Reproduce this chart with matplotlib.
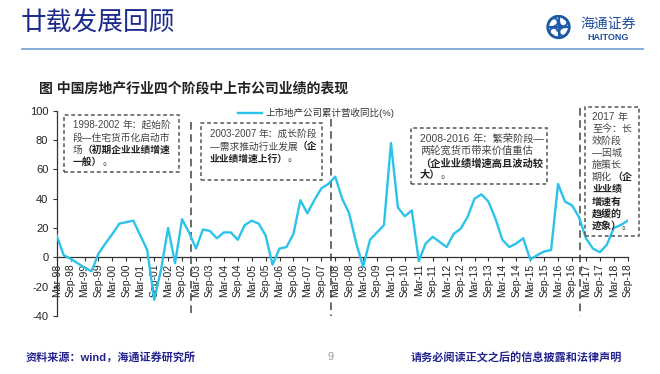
import numpy as np
import matplotlib
matplotlib.use("Agg")
import matplotlib.pyplot as plt
from matplotlib.patches import Rectangle, Circle, Arc
from matplotlib.lines import Line2D

plt.rcParams['font.family'] = ['Liberation Sans', 'Noto Sans CJK SC', 'DejaVu Sans']

# ---------------- data (quarterly, Mar-98 .. Sep-18) ----------------
y1998 = [15, 1.5, -1, -4]
y1999 = [-7, -9.5, 2.5, 9.5]
y2000 = [16, 23, 24, 25]
y2001 = [15, 5, -29, -8]
y2002 = [20, -4, 26, 17]
y2003 = [6, 19, 18, 13]
y2004 = [17, 17, 12, 22]
y2005 = [25, 23, 15, -5]
y2006 = [6, 7, 16, 39]
y2007 = [30, 39, 47, 50]
y2008 = [55, 40, 30, 10]
y2009 = [-6.5, 12, 17, 22]
y2010 = [78, 34, 28, 32]
y2011 = [-2.5, 9.5, 14, 10.5]
y2012 = [7, 16, 19.5, 27.5]
y2013 = [40, 43, 38, 26.5]
y2014 = [12, 7, 9.5, 13]
y2015 = [-1.5, 1.5, 4, 5]
y2016 = [50, 38, 35.5, 27.5]
y2017 = [13, 6, 3.5, 8.5]
y2018 = [20, 22, 25]

values = (y1998 + y1999 + y2000 + y2001 + y2002 + y2003 + y2004 + y2005 +
          y2006 + y2007 + y2008 + y2009 + y2010 + y2011 + y2012 + y2013 +
          y2014 + y2015 + y2016 + y2017 + y2018)

tick_labels = ["Mar-98", "Sep-98", "Mar-99", "Sep-99", "Mar-00", "Sep-00",
               "Mar-01", "Sep-01", "Mar-02", "Sep-02", "Mar-03", "Sep-03",
               "Mar-04", "Sep-04", "Mar-05", "Sep-05", "Mar-06", "Sep-06",
               "Mar-07", "Sep-07", "Mar-08", "Sep-08", "Mar-09", "Sep-09",
               "Mar-10", "Sep-10", "Mar-11", "Sep-11", "Mar-12", "Sep-12",
               "Mar-13", "Sep-13", "Mar-14", "Sep-14", "Mar-15", "Sep-15",
               "Mar-16", "Sep-16", "Mar-17", "Sep-17", "Mar-18", "Sep-18"]
y_ticks = [-40, -20, 0, 20, 40, 60, 80, 100]
series_name = "上市地产公司累计营收同比(%)"
stage_breaks = [9.65, 19.7, 37.6]   # positions in half-year units

# ---------------- figure ----------------
W, H = 660, 374
fig = plt.figure(figsize=(W / 100, H / 100), dpi=100)
fig.patch.set_facecolor('white')


def fx(p):
    return p / W


def fy(p):
    return 1 - p / H


NAVY = '#1c2a8c'
LINE = '#2cc3ea'
GRAY = '#444444'

ax = fig.add_axes([fx(56.7), fy(316), fx(627.7) - fx(56.7), fy(110.7) - fy(316)])
x = np.arange(len(values)) * 0.5
ax.plot(x, values, color=LINE, lw=1.7, solid_joinstyle='round', zorder=3)
ax.set_xlim(0, 41)
ax.set_ylim(-40, 100)

for s in ['top', 'right']:
    ax.spines[s].set_visible(False)
ax.spines['bottom'].set_position(('data', 0))
for s in ['left', 'bottom']:
    ax.spines[s].set_color('#333333')
    ax.spines[s].set_linewidth(0.9)

ax.set_xticks(np.arange(len(tick_labels)))
ax.set_xticklabels(tick_labels, rotation=90, fontsize=7.5, color='#222222')
ax.set_yticks(y_ticks)
ax.set_yticklabels([str(v) for v in y_ticks], fontsize=8, color='#222222')
ax.tick_params(axis='x', length=3, width=0.8, pad=1.5, color='#333333')
ax.tick_params(axis='y', length=3, width=0.8, pad=3, color='#333333')

# stage separator lines
tops = [92, 94, 102]
for b, t in zip(stage_breaks, tops):
    ax.plot([b, b], [t, -40], ls=(0, (5, 3)), color=GRAY, lw=1.1,
            clip_on=False, zorder=2)

# legend (manual)
fig.add_artist(Line2D([fx(238), fx(262)], [fy(113), fy(113)], color=LINE, lw=1.7,
                      transform=fig.transFigure))
fig.text(fx(265), fy(113), series_name, fontsize=6.8, color='#333333', va='center')

# ---------------- annotation boxes ----------------
def box(l, t, r, b):
    fig.add_artist(Rectangle((fx(l), fy(b)), fx(r) - fx(l), fy(t) - fy(b),
                             transform=fig.transFigure, fill=False,
                             ec='#555555', lw=1.1, ls=(0, (2.5, 1.8))))


def seg_line(xp, yp, segs, size=7):
    prev = None
    for s, w in segs:
        kw = dict(fontsize=size, color='#222222' if w == 'bold' else '#444444',
                  weight=w, va='center', ha='left', annotation_clip=False)
        if prev is None:
            prev = ax.annotate(s, xy=(fx(xp), fy(yp)), xycoords='figure fraction', **kw)
        else:
            prev = ax.annotate(s, xy=(1, 0.5), xycoords=prev, **kw)


N, B = 'normal', 'bold'

box(64, 115, 179, 171.7)
seg_line(73, 125, [("1998-2002 ", N), ("年：起始阶", N)])
seg_line(73, 137.5, [("段—住宅货币化启动市", N)])
seg_line(73, 150, [("场", N), ("（初期企业业绩增速", B)])
seg_line(73, 162, [("一般）", B), ("。", N)])

box(200.7, 123.3, 322.3, 180)
seg_line(210, 134.3, [("2003-2007 ", N), ("年：成长阶段", N)])
seg_line(210, 146.5, [("—需求推动行业发展", N), ("（企", B)])
seg_line(210, 158.5, [("业业绩增速上行）", B), ("。", N)])

box(411, 128.3, 546.7, 184.3)
seg_line(420, 139, [("2008-2016 ", N), ("年：繁荣阶段—", N)], 7.4)
seg_line(420, 151, [("两轮宽货币带来价值重估", N)], 7.4)
seg_line(420, 163.3, [("（企业业绩增速高且波动较", B)], 7.4)
seg_line(420, 175, [("大）", B), ("。", N)], 7.4)

box(585, 107, 639, 236)
box4_lines = [
    [("2017 ", N), ("年", N)],
    [("至今：长", N)],
    [("效阶段", N)],
    [("—因城", N)],
    [("施策长", N)],
    [("期化", N), ("（企", B)],
    [("业业绩", B)],
    [("增速有", B)],
    [("趋缓的", B)],
    [("迹象）", B), ("。", N)],
]
for i, segs in enumerate(box4_lines):
    seg_line(592, 116.7 + 12.1 * i, segs, 7.2)

# ---------------- header ----------------
fig.text(fx(21), fy(24), "廿载发展回顾", fontsize=18.5, color=NAVY, va='center',
         family=['Noto Sans CJK SC'])
fig.add_artist(Line2D([fx(22), fx(643)], [fy(49), fy(49)], color='#7ea6d8', lw=1.3,
                      transform=fig.transFigure))

# logo
lax = fig.add_axes([fx(546), fy(39.5), fx(571) - fx(546), fy(14.5) - fy(14.5 + 25)])
lax.set_xlim(-1.1, 1.1)
lax.set_ylim(-1.1, 1.1)
lax.set_aspect('equal')
lax.axis('off')
LB = '#1f5aa6'
lax.add_patch(Circle((0, 0), 0.95, fill=False, ec=LB, lw=2.0))
lax.plot([-0.8, 0.8], [0, 0], color=LB, lw=1.6)
lax.plot([0, 0], [-0.8, 0.8], color=LB, lw=1.6)
for cx, cy, a in [(0.42, 0.42, 180), (-0.42, 0.42, 270), (-0.42, -0.42, 0), (0.42, -0.42, 90)]:
    lax.add_patch(Arc((cx, cy), 0.7, 0.7, theta1=a, theta2=a + 270, color=LB, lw=1.4))

fig.text(fx(580), fy(24), "海通证券", fontsize=10, color='#1f4f9a', va='center',
         family=['Noto Sans CJK SC'])
fig.text(fx(587), fy(37.5), "HAITONG", fontsize=6.5, weight='bold', color='#1f4f9a',
         va='center', family=['Liberation Sans'])

# ---------------- titles & footer ----------------
fig.text(fx(39), fy(88), "图 中国房地产行业四个阶段中上市公司业绩的表现", fontsize=10,
         weight='bold', color='#222222', va='center')
fig.text(fx(26), fy(357), "资料来源：wind，海通证券研究所", fontsize=8, weight='bold',
         color='#23238e', va='center')
fig.text(fx(327), fy(357), "9", fontsize=8, color='#9a9a9a', va='center')
fig.text(fx(411), fy(358), "请务必阅读正文之后的信息披露和法律声明", fontsize=8,
         weight='bold', color='#23238e', va='center')

fig.savefig("out.png", dpi=100)
